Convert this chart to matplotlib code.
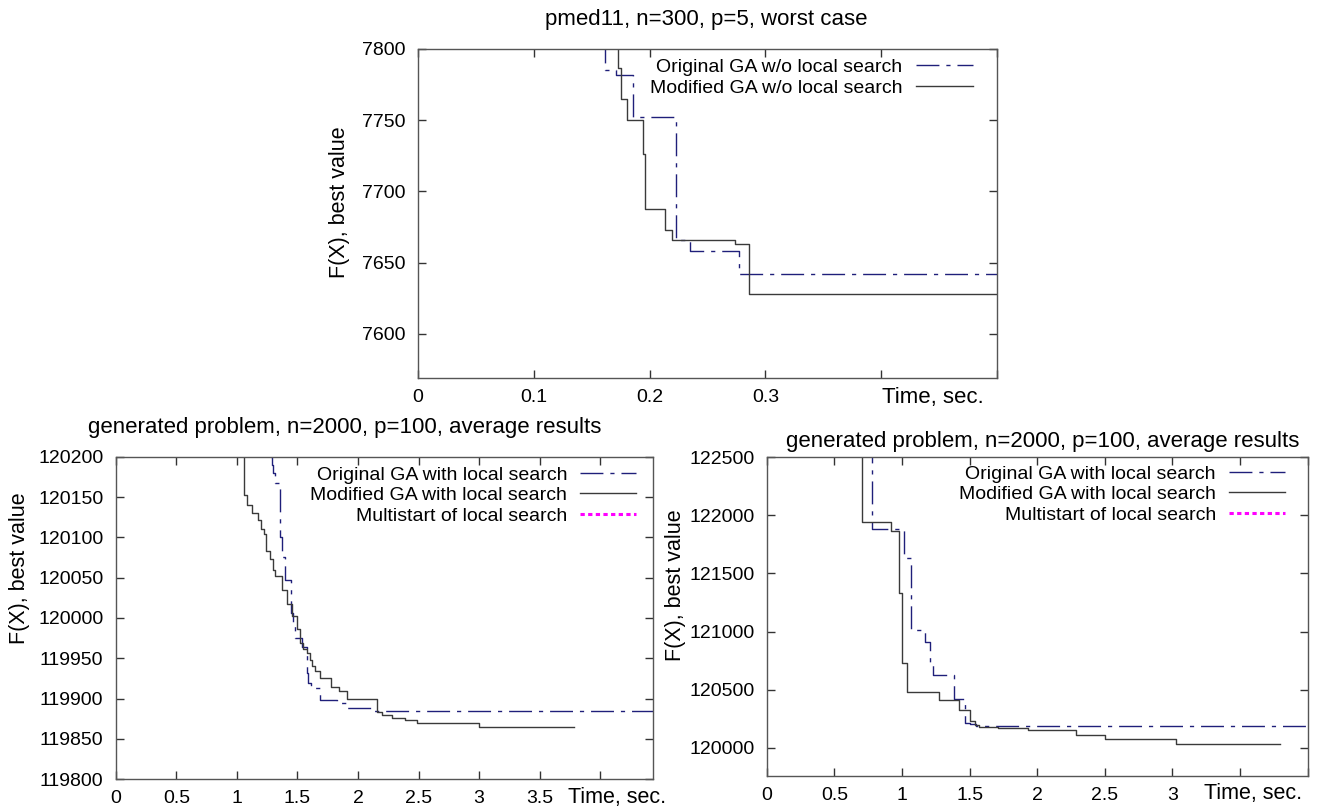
import numpy as np
import matplotlib.pyplot as plt
from matplotlib.lines import Line2D

plt.rcParams['font.family'] = ['Liberation Sans', 'DejaVu Sans']

# ---------------------------------------------------------------------------
# pmed11, n=300, p=5, worst case  (time, best value) - step changes
top_orig_t = [0.1614, 0.1614, 0.1706, 0.1853, 0.2229, 0.2348, 0.2775, 0.5]
top_orig_v = [7850, 7785, 7782, 7752, 7666, 7658, 7642, 7642]
top_mod_t = [0.1724, 0.1724, 0.1751, 0.1802, 0.1939, 0.1962, 0.2137, 0.2191,
             0.2741, 0.2860, 0.5]
top_mod_v = [7850, 7787, 7765, 7750, 7726, 7688, 7673, 7666, 7663, 7628, 7628]

# generated problem, left panel
bl_orig_t = [1.274, 1.274, 1.29, 1.30, 1.316, 1.356, 1.375, 1.397, 1.444,
             1.46, 1.479, 1.535, 1.576, 1.590, 1.613, 1.690, 1.829, 1.899,
             2.108, 4.44]
bl_orig_v = [120300, 120200, 120190, 120180, 120167, 120101, 120075, 120047,
             120006, 119990, 119975, 119964, 119932, 119919, 119913, 119898,
             119894, 119889, 119885, 119885]
bl_mod_t = [1.056, 1.056, 1.080, 1.122, 1.174, 1.202, 1.220, 1.244, 1.272,
            1.300, 1.314, 1.369, 1.411, 1.456, 1.498, 1.523, 1.544, 1.575,
            1.603, 1.620, 1.648, 1.690, 1.777, 1.847, 1.906, 2.153, 2.195,
            2.282, 2.387, 2.491, 3.003, 3.780]
bl_mod_v = [120300, 120152, 120140, 120130, 120122, 120110, 120104, 120083,
            120073, 120060, 120052, 120035, 120017, 120002, 119986, 119969,
            119961, 119956, 119948, 119941, 119934, 119925, 119915, 119910,
            119900, 119883, 119880, 119876, 119873, 119870, 119865, 119865]

# generated problem, right panel
br_orig_t = [0.781, 0.781, 1.016, 1.069, 1.169, 1.209, 1.23, 1.381, 1.466,
             1.50, 1.55, 4.0]
br_orig_v = [123000, 121880, 121637, 121014, 120909, 120737, 120623, 120423,
             120209, 120200, 120189, 120189]
br_mod_t = [0.703, 0.703, 0.919, 0.981, 1.000, 1.0375, 1.272, 1.419, 1.506,
            1.537, 1.569, 1.709, 1.928, 2.288, 2.5, 3.028, 3.794]
br_mod_v = [123000, 121943, 121866, 121329, 120731, 120480, 120409, 120329,
            120231, 120194, 120180, 120166, 120151, 120109, 120071, 120031,
            120031]

lbl_orig_top = 'Original GA w/o local search'
lbl_mod_top = 'Modified GA w/o local search'
lbl_orig = 'Original GA with local search'
lbl_mod = 'Modified GA with local search'
lbl_multi = 'Multistart of local search'

# ---------------------------------------------------------------------------
col_orig = '#1f1f7a'
col_mod = '#3a3a3a'
col_multi = '#ff00ff'
ls_orig = (0, (16.5, 5, 3, 5))
ls_multi = (0, (1.4, 1.1))
frame_col = '#555555'
tick_fs = 14


def style_axes(ax, xticks, xlabels, yticks, xlim, ylim):
    ax.set_xlim(*xlim)
    ax.set_ylim(*ylim)
    ax.set_xticks(xticks)
    ax.set_xticklabels(xlabels)
    ax.set_yticks(yticks)
    ax.set_yticklabels([str(v) for v in yticks])
    ax.tick_params(direction='in', length=6, width=1, color='#333333',
                   top=True, right=True, labelsize=tick_fs)
    ax.tick_params(axis='x', pad=8)
    ax.tick_params(axis='y', pad=9)
    for s in ax.spines.values():
        s.set_color(frame_col)
        s.set_linewidth(1.0)


fig = plt.figure(figsize=(13.2, 8.11), dpi=100)

# top panel
ax1 = fig.add_axes([0.3167, 0.5339, 0.4386, 0.4057])
ax1.step(top_orig_t, top_orig_v, where='post', color=col_orig, lw=1.0, ls=ls_orig)
ax1.step(top_mod_t, top_mod_v, where='post', color=col_mod, lw=1.0)
style_axes(ax1, [0, 0.1, 0.2, 0.3, 0.4, 0.5], ['0', '0.1', '0.2', '0.3', '', ''],
           [7600, 7650, 7700, 7750, 7800], (0, 0.5), (7569, 7800))
h1 = [Line2D([], [], color=col_orig, lw=1.0, ls=ls_orig),
      Line2D([], [], color=col_mod, lw=1.0)]
ax1.legend(h1, [lbl_orig_top, lbl_mod_top], loc='upper right',
           bbox_to_anchor=(973 / 1320, 1 - 58 / 811), bbox_transform=fig.transFigure,
           frameon=False, markerfirst=False, handlelength=2.93, handletextpad=0.7,
           labelspacing=0.17, borderpad=0, borderaxespad=0, fontsize=14)

# bottom left panel
ax2 = fig.add_axes([0.0877, 0.0391, 0.4070, 0.3978])
ax2.step(bl_orig_t, bl_orig_v, where='post', color=col_orig, lw=1.0, ls=ls_orig)
ax2.step(bl_mod_t, bl_mod_v, where='post', color=col_mod, lw=1.0)
xt2 = [0, 0.5, 1, 1.5, 2, 2.5, 3, 3.5, 4]
style_axes(ax2, xt2, ['0', '0.5', '1', '1.5', '2', '2.5', '3', '3.5', ''],
           [119800, 119850, 119900, 119950, 120000, 120050, 120100, 120150, 120200],
           (0, 4.436), (119800, 120200))

# bottom right panel
ax3 = fig.add_axes([0.5809, 0.0432, 0.4098, 0.3930])
ax3.step(br_orig_t, br_orig_v, where='post', color=col_orig, lw=1.0, ls=ls_orig)
ax3.step(br_mod_t, br_mod_v, where='post', color=col_mod, lw=1.0)
style_axes(ax3, xt2, ['0', '0.5', '1', '1.5', '2', '2.5', '3', '', ''],
           [120000, 120500, 121000, 121500, 122000, 122500],
           (0, 4.0), (119757, 122500))

for ax, xr, ytop in [(ax2, 636, 466), (ax3, 1284.5, 465)]:
    hh = [Line2D([], [], color=col_orig, lw=1.0, ls=ls_orig),
          Line2D([], [], color=col_mod, lw=1.0),
          Line2D([], [], color=col_multi, lw=2.2, ls=ls_multi)]
    ax.legend(hh, [lbl_orig, lbl_mod, lbl_multi], loc='upper right',
              bbox_to_anchor=(xr / 1320, 1 - ytop / 811), bbox_transform=fig.transFigure,
              frameon=False, markerfirst=False, handlelength=2.88, handletextpad=0.65,
              labelspacing=0.15, borderpad=0, borderaxespad=0, fontsize=14)

# titles, axis labels
fig.text(706 / 1320, 1 - 19 / 811, 'pmed11, n=300, p=5, worst case',
         ha='center', va='center', fontsize=16)
fig.text(344.5 / 1320, 1 - 428 / 811, 'generated problem, n=2000, p=100, average results',
         ha='center', va='center', fontsize=16)
fig.text(1043 / 1320, 1 - 441.7 / 811, 'generated problem, n=2000, p=100, average results',
         ha='center', va='center', fontsize=16)

fig.text(339 / 1320, 1 - 202 / 811, 'F(X), best value', rotation=90,
         ha='center', va='center', fontsize=15.5)
fig.text(20 / 1320, 1 - 568 / 811, 'F(X), best value', rotation=90,
         ha='center', va='center', fontsize=15.5)
fig.text(676 / 1320, 1 - 585 / 811, 'F(X), best value', rotation=90,
         ha='center', va='center', fontsize=15.5)

fig.text(882 / 1320, 1 - 398 / 811, 'Time, sec.', ha='left', va='center', fontsize=16)
fig.text(568 / 1320, 1 - 798 / 811, 'Time, sec.', ha='left', va='center', fontsize=15.5)
fig.text(1204 / 1320, 1 - 793 / 811, 'Time, sec.', ha='left', va='center', fontsize=15.5)

plt.savefig('out.png', dpi=100)
